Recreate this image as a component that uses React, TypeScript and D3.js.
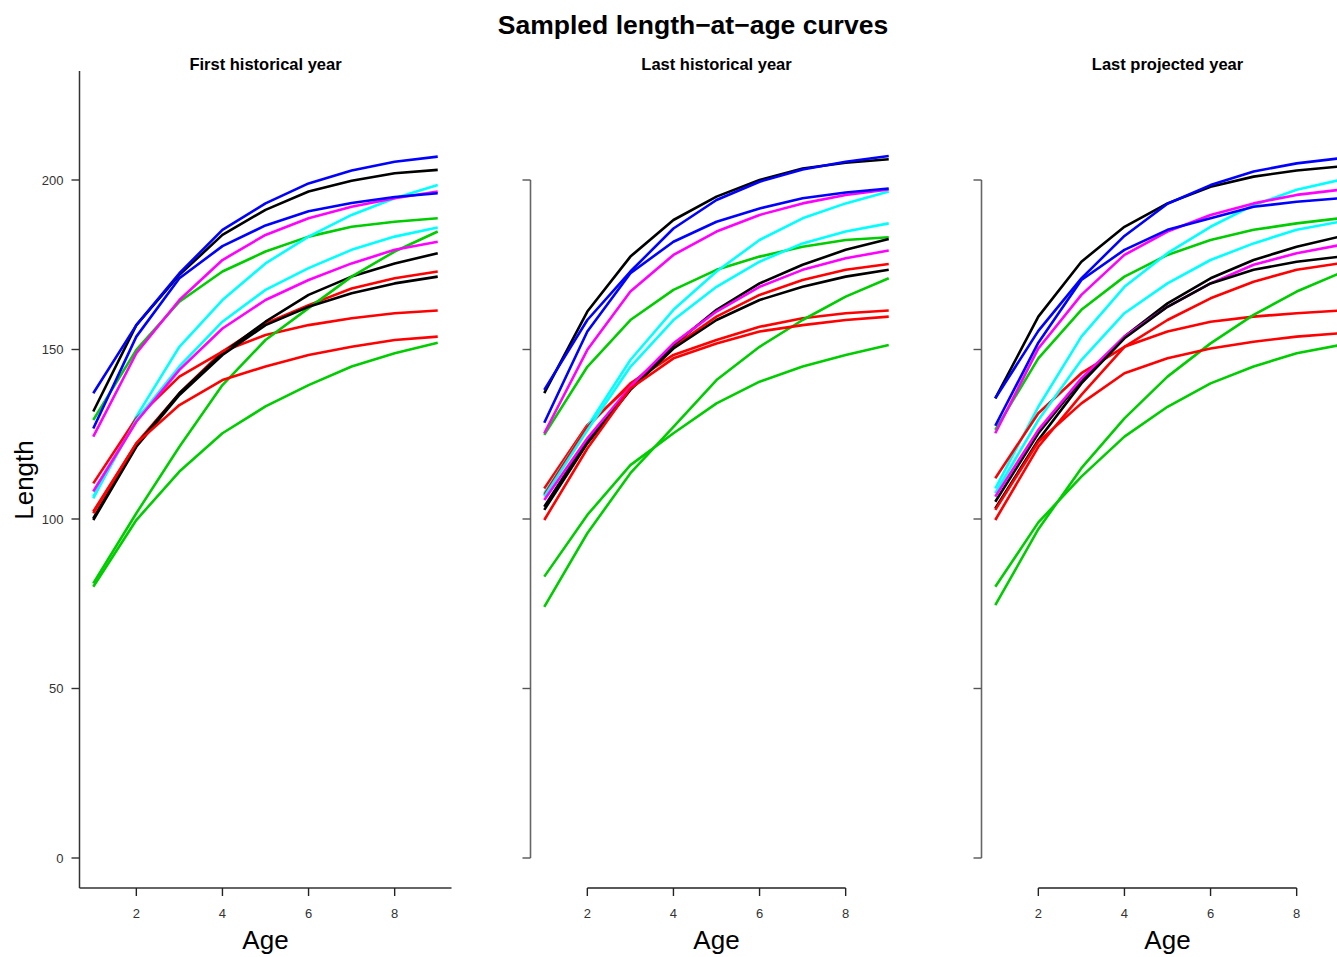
import React from "react";
import * as d3 from "d3";

const ages = [1, 2, 3, 4, 5, 6, 7, 8, 9];
const panelTitles = ["First historical year", "Last historical year", "Last projected year"];
const yTicks = [0, 50, 100, 150, 200];
const xTicks = [2, 4, 6, 8];
const lineColors = [
  "#000000", "#FF0000", "#00CD00", "#0000FF", "#00FFFF", "#FF00FF",
  "#000000", "#FF0000", "#00CD00", "#0000FF", "#00FFFF", "#FF00FF",
  "#000000", "#FF0000", "#00CD00",
];

const firstHistorical = [
  [131.7, 157.2, 172.0, 183.8, 191.2, 196.6, 199.8, 202.0, 203.0],
  [102.2, 122.3, 137.1, 149.4, 157.7, 163.1, 168.0, 171.0, 173.0],
  [129.2, 149.9, 164.1, 173.0, 178.9, 183.3, 186.2, 187.7, 188.7],
  [137.1, 157.2, 172.5, 185.3, 193.1, 199.0, 202.8, 205.4, 206.9],
  [106.1, 130.2, 150.8, 164.6, 175.4, 183.3, 189.7, 194.6, 198.5],
  [124.3, 148.9, 164.6, 176.4, 183.8, 188.7, 192.1, 194.6, 196.6],
  [100.2, 121.8, 137.1, 148.9, 158.2, 166.1, 171.5, 175.4, 178.4],
  [110.5, 129.7, 142.0, 149.4, 154.3, 157.2, 159.2, 160.7, 161.5],
  [81.0, 101.7, 121.3, 139.5, 152.8, 162.2, 171.5, 178.9, 184.8],
  [126.7, 153.8, 171.0, 180.5, 186.6, 190.8, 193.2, 195.0, 196.1],
  [106.6, 129.2, 145.0, 158.2, 167.6, 174.0, 179.4, 183.3, 186.0],
  [108.1, 128.7, 144.0, 156.2, 164.6, 170.5, 175.4, 179.4, 181.8],
  [99.7, 121.3, 136.6, 148.4, 157.2, 162.6, 166.6, 169.5, 171.5],
  [101.7, 122.3, 133.6, 141.0, 145.0, 148.4, 150.8, 152.8, 153.8],
  [80.0, 99.7, 114.0, 125.3, 133.2, 139.5, 145.0, 148.9, 152.0],
];

const lastHistorical = [
  [137.1, 161.2, 177.4, 188.2, 195.1, 200.0, 203.4, 205.1, 206.1],
  [109.0, 127.7, 139.5, 150.8, 159.7, 166.1, 170.5, 173.5, 175.2],
  [124.8, 144.9, 158.7, 167.6, 173.5, 177.4, 180.3, 182.3, 183.1],
  [138.1, 158.7, 173.0, 185.7, 194.1, 199.5, 203.1, 205.4, 207.1],
  [107.6, 127.2, 146.9, 161.7, 173.0, 182.3, 188.7, 193.1, 196.6],
  [125.3, 149.9, 167.1, 177.9, 184.8, 189.7, 193.1, 195.6, 197.2],
  [103.6, 123.3, 138.5, 151.3, 161.7, 169.5, 175.0, 179.4, 182.6],
  [107.1, 127.2, 140.0, 148.4, 152.8, 156.7, 159.2, 160.7, 161.5],
  [74.1, 95.8, 113.5, 127.2, 141.0, 150.8, 158.7, 165.6, 171.0],
  [128.4, 155.3, 172.5, 181.8, 187.7, 191.6, 194.6, 196.3, 197.5],
  [106.6, 126.2, 144.9, 158.7, 168.5, 175.9, 181.3, 184.8, 187.2],
  [105.6, 123.8, 139.0, 151.8, 161.2, 168.5, 173.5, 176.9, 179.2],
  [102.7, 122.3, 138.1, 150.3, 158.7, 164.6, 168.5, 171.5, 173.5],
  [99.7, 120.8, 138.5, 147.4, 151.8, 155.3, 157.2, 158.7, 159.7],
  [83.0, 101.2, 115.9, 125.3, 134.1, 140.5, 145.0, 148.4, 151.3],
];

const lastProjected = [
  [135.6, 159.7, 175.9, 186.2, 193.1, 198.0, 201.0, 202.8, 204.0],
  [99.7, 121.3, 136.6, 150.8, 158.7, 165.1, 170.0, 173.5, 175.4],
  [126.3, 147.4, 161.7, 171.5, 177.9, 182.3, 185.3, 187.2, 188.7],
  [135.6, 155.5, 171.0, 183.5, 193.0, 198.5, 202.5, 204.9, 206.4],
  [109.0, 133.1, 153.8, 168.5, 178.4, 186.2, 192.6, 197.1, 200.0],
  [125.3, 150.3, 166.1, 177.9, 184.8, 189.7, 193.1, 195.6, 197.1],
  [105.1, 125.3, 141.0, 153.8, 163.6, 171.0, 176.4, 180.3, 183.3],
  [112.0, 131.2, 143.0, 150.8, 155.3, 158.2, 159.7, 160.7, 161.5],
  [74.6, 97.0, 115.0, 129.7, 142.0, 151.8, 160.2, 167.1, 172.5],
  [127.5, 152.0, 170.5, 179.4, 185.3, 188.7, 192.1, 193.6, 194.6],
  [107.6, 129.2, 146.9, 160.7, 169.5, 176.4, 181.3, 185.3, 187.7],
  [106.6, 126.3, 141.5, 153.8, 162.6, 169.5, 175.0, 178.4, 180.8],
  [103.1, 123.3, 140.0, 153.3, 162.6, 169.5, 173.5, 175.9, 177.4],
  [102.7, 122.8, 134.1, 143.0, 147.4, 150.3, 152.3, 153.8, 154.8],
  [80.0, 99.0, 112.5, 124.3, 133.1, 140.0, 145.0, 148.9, 151.3],
];

const panels = [firstHistorical, lastHistorical, lastProjected];

const W = 1337;
const H = 957;
const FONT = "'Liberation Sans', Arial, Helvetica, sans-serif";
const PANEL_STEP = 451;
const PLOT_W = 372;
const PLOT_TOP = 71;
const PLOT_BOTTOM = 888;

export default function App() {
  const y = d3.scaleLinear().domain([0, 200]).range([858, 180]);
  return (
    <svg
      width={W}
      height={H}
      style={{ position: "absolute", left: 0, top: 0, background: "#fff" }}
      fontFamily={FONT}
    >
      <rect x={0} y={0} width={W} height={H} fill="#fff" />
      <text x={693} y={34} textAnchor="middle" fontSize={26.5} fontWeight="bold" fill="#000">
        Sampled length−at−age curves
      </text>
      <text
        transform={`translate(33,480) rotate(-90)`}
        textAnchor="middle"
        fontSize={26}
        fill="#000"
      >
        Length
      </text>
      {panels.map((series, pi) => {
        const left = 79.5 + PANEL_STEP * pi;
        const x = d3.scaleLinear().domain([0.68, 9.32]).range([left, left + PLOT_W]);
        const line = d3
          .line<number>()
          .x((_, i) => x(ages[i]))
          .y((v) => y(v));
        const cx = left + PLOT_W / 2;
        return (
          <g key={pi}>
            <text x={cx} y={70} textAnchor="middle" fontSize={16.5} fontWeight="bold" fill="#000">
              {panelTitles[pi]}
            </text>
            {pi === 0 ? (
              <g stroke="#333" strokeWidth={1.5} fill="none">
                <line x1={left} x2={left} y1={PLOT_TOP} y2={PLOT_BOTTOM} />
                <line x1={left} x2={left + PLOT_W} y1={PLOT_BOTTOM} y2={PLOT_BOTTOM} />
              </g>
            ) : (
              <g fill="none">
                <line x1={left} x2={left} y1={y(200)} y2={y(0)} stroke="#666" strokeWidth={1.6} />
                <line
                  x1={x(xTicks[0])}
                  x2={x(xTicks[xTicks.length - 1])}
                  y1={PLOT_BOTTOM}
                  y2={PLOT_BOTTOM}
                  stroke="#222"
                  strokeWidth={1.5}
                />
              </g>
            )}
            {yTicks.map((t) => (
              <g key={t}>
                <line
                  x1={left - 8}
                  x2={left}
                  y1={y(t)}
                  y2={y(t)}
                  stroke={pi === 0 ? "#333" : "#555"}
                  strokeWidth={1.4}
                />
                {pi === 0 && (
                  <text x={left - 16} y={y(t)} dy="0.35em" textAnchor="end" fontSize={13} fill="#333">
                    {t}
                  </text>
                )}
              </g>
            ))}
            {xTicks.map((t) => (
              <g key={t}>
                <line x1={x(t)} x2={x(t)} y1={PLOT_BOTTOM} y2={PLOT_BOTTOM + 8} stroke="#222" strokeWidth={1.4} />
                <text x={x(t)} y={918} textAnchor="middle" fontSize={13} fill="#333">
                  {t}
                </text>
              </g>
            ))}
            <text x={cx} y={949} textAnchor="middle" fontSize={26} fill="#000">
              Age
            </text>
            {series.map((vals, si) => (
              <path
                key={si}
                d={line(vals) || ""}
                fill="none"
                stroke={lineColors[si]}
                strokeWidth={2.6}
                strokeLinejoin="round"
              />
            ))}
          </g>
        );
      })}
    </svg>
  );
}
